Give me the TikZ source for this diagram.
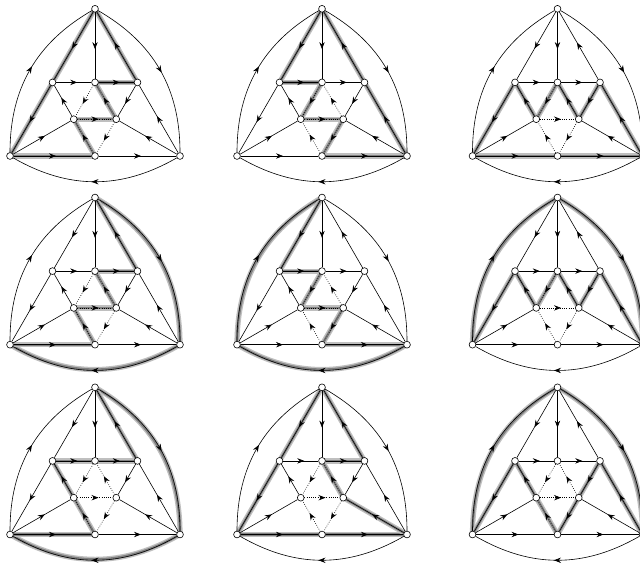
\documentclass[tikz,border=0pt]{standalone}
\usetikzlibrary{arrows.meta,decorations.markings}
\pgfdeclarelayer{halo}
\pgfdeclarelayer{edges}
\pgfsetlayers{halo,edges,main}
\tikzset{
  vtx/.style={circle,draw=black,fill=white,line width=0.6pt,inner sep=0pt,minimum size=6.8pt},
  e/.style={line width=0.6pt,
    decoration={markings,mark=at position 0.5 with {\pgftransformxshift{3.5pt}\arrow{Stealth[length=7pt,width=5.4pt,inset=2.4pt]}}},
    postaction={decorate,solid}},
  dot/.style={e,dash pattern=on 0.7pt off 1.5pt},
  arcb/.style={bend left=30},
  st/.style={},
  haloA/.style={line width=5.2pt,draw=black!25,line cap=round,line join=round},
  haloB/.style={line width=2.4pt,draw=black!50,line cap=round,line join=round},
}
\newcommand\panel[3]{%
  \begin{scope}[shift={(#2,#3)}]
    \node[vtx] (#1L)  at (0,0) {};
    \node[vtx] (#1R)  at (170,0) {};
    \node[vtx] (#1T)  at (85,147.2) {};
    \node[vtx] (#1B)  at (85,0) {};
    \node[vtx] (#1UL) at (42.5,73.6) {};
    \node[vtx] (#1UM) at (85,73.6) {};
    \node[vtx] (#1UR) at (127.5,73.6) {};
    \node[vtx] (#1IL) at (63.75,36.8) {};
    \node[vtx] (#1IR) at (106.25,36.8) {};
  \end{scope}
  \begin{pgfonlayer}{edges}
    \foreach \a/\b/\s in {T/UL/st, UL/L/st, T/UM/st, UR/T/st, R/UR/st, UL/UM/st, UM/UR/st,
        IL/UL/st, UR/IR/st, L/IL/st, R/IR/st, L/B/st, B/R/st, L/T/arcb, T/R/arcb, R/L/arcb}
      \draw[e] (#1\a) to[\s] (#1\b);
  \end{pgfonlayer}}
\newcommand\inneredges[2]{%
  \begin{pgfonlayer}{edges}
    \foreach \a/\b/\s in {#2}
      \draw[\s] (#1\a) -- (#1\b);
  \end{pgfonlayer}}
\newcommand\hilite[2]{%
  \begin{pgfonlayer}{halo}
    \foreach \a/\b/\s in {#2}{
      \draw[haloA] (#1\a.center) to[\s] (#1\b.center);
      \draw[haloB] (#1\a.center) to[\s] (#1\b.center);}
  \end{pgfonlayer}}
\begin{document}
\begin{tikzpicture}[x=1pt,y=1pt]
\useasboundingbox (0,0) rectangle (640,566);
% row 1
\panel{a}{10}{410}
\inneredges{a}{UM/IL/dot, IR/UM/dot, IL/IR/dot, B/IL/dot, IR/B/dot}
\hilite{a}{T/UL/st, UL/L/st, L/B/st, B/IL/st, IL/IR/st, IR/UM/st, UM/UR/st, UR/T/st}
\panel{b}{237}{410}
\inneredges{b}{UM/IL/dot, IR/UM/dot, IL/IR/dot, B/IL/dot, IR/B/dot}
\hilite{b}{T/UL/st, UL/UM/st, UM/IL/st, IL/IR/st, IR/B/st, B/R/st, R/UR/st, UR/T/st}
\panel{c}{472.5}{410}
\inneredges{c}{UM/IL/dot, IR/UM/e, IL/IR/dot, B/IL/dot, IR/B/dot}
\hilite{c}{UL/L/st, IL/UL/st, UM/IL/st, IR/UM/st, UR/IR/st, R/UR/st, L/B/st, B/R/st}
% row 2
\panel{d}{10}{221.3}
\inneredges{d}{UM/IL/dot, IR/UM/dot, IL/IR/dot, B/IL/dot, IR/B/dot}
\hilite{d}{T/R/arcb, R/L/arcb, L/B/st, B/IL/st, IL/IR/st, IR/UM/st, UM/UR/st, UR/T/st}
\panel{f}{237}{221.3}
\inneredges{f}{UM/IL/dot, IR/UM/dot, IL/IR/dot, B/IL/dot, IR/B/dot}
\hilite{f}{L/T/arcb, T/UL/st, UL/UM/st, UM/IL/st, IL/IR/st, IR/B/st, B/R/st, R/L/arcb}
\panel{g}{472.5}{221.3}
\inneredges{g}{UM/IL/dot, IR/UM/e, IL/IR/dot, B/IL/dot, IR/B/dot}
\hilite{g}{L/T/arcb, T/R/arcb, R/UR/st, UR/IR/st, IR/UM/st, UM/IL/st, IL/UL/st, UL/L/st}
% row 3
\panel{h}{10}{31.5}
\inneredges{h}{UM/IL/dot, IR/UM/dot, IL/IR/dot, B/IL/dot, IR/B/dot}
\hilite{h}{T/R/arcb, R/L/arcb, L/B/st, B/IL/st, IL/UL/st, UL/UM/st, UM/UR/st, UR/T/st}
\panel{k}{237}{31.5}
\inneredges{k}{UM/IL/dot, IR/UM/dot, IL/IR/dot, B/IL/dot, IR/B/dot}
\hilite{k}{T/UL/st, UL/L/st, L/B/st, B/R/st, R/IR/st, IR/UM/st, UM/UR/st, UR/T/st}
\panel{m}{472.5}{31.5}
\inneredges{m}{UM/IL/dot, IR/UM/dot, IL/IR/dot, B/IL/dot, IR/B/e}
\hilite{m}{L/T/arcb, T/R/arcb, R/UR/st, UR/IR/st, IR/B/st, B/IL/st, IL/UL/st, UL/L/st}
\end{tikzpicture}
\end{document}
